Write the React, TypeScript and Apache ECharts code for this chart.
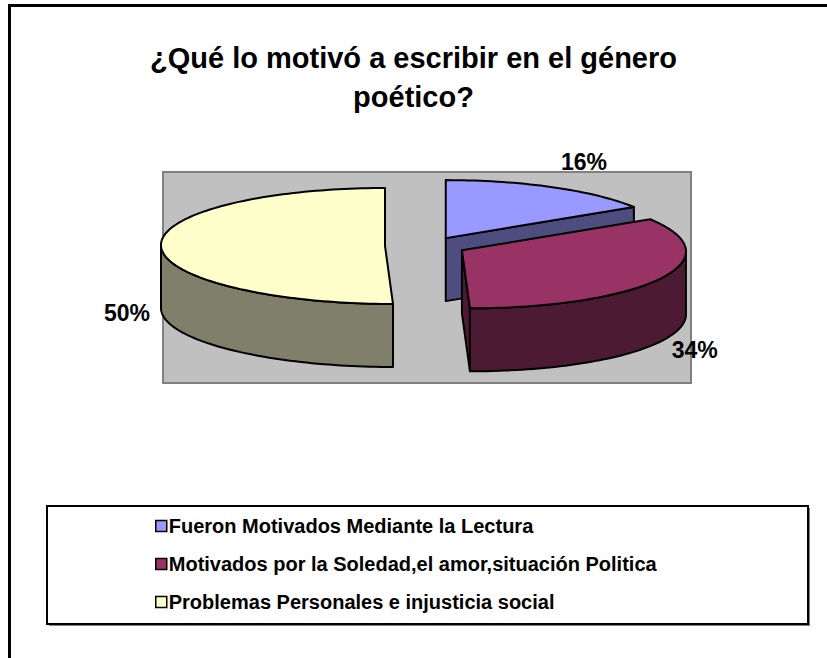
import React, { useEffect, useRef } from "react";
import * as echarts from "echarts";

const titleText = "¿Qué lo motivó a escribir en el género\npoético?";
const categories = [
  "Fueron Motivados Mediante la Lectura",
  "Motivados por la Soledad,el amor,situación Politica",
  "Problemas Personales e injusticia social",
];
const values = [16, 34, 50];
const topColors = ["#9999FF", "#993366", "#FFFFCC"];
const sideColors = ["#4D4D80", "#4D1A33", "#80806A"];

const FONT = "'Liberation Sans', Arial, Helvetica, sans-serif";

// 3D pie geometry (pixels)
const CX = 426;
const CY = 246;
const RX = 224;
const RY = 58;
const H = 63;
const EX = 41;
const EY = 9;

const persp = (t: number) => 4 * t + 4 * t * t;

const total = values.reduce((a, b) => a + b, 0);
const angles: [number, number][] = [];
{
  let acc = 0;
  for (const v of values) {
    const a1 = (acc / total) * Math.PI * 2;
    acc += v;
    const a2 = (acc / total) * Math.PI * 2;
    angles.push([a1, a2]);
  }
}

function makeRenderItem(i: number) {
  return (_params: any, _api: any) => {
    const [a1, a2] = angles[i];
    const am = (a1 + a2) / 2;
    const sc = [CX + EX * Math.sin(am), CY - EY * Math.cos(am)];
    const pt = (a: number, dy = 0) => {
      const t = -Math.cos(a);
      return [sc[0] + RX * Math.sin(a) + persp(t), sc[1] + RY * t + dy];
    };
    const arc = (from: number, to: number, dy: number) => {
      const n = Math.max(2, Math.ceil((to - from) / (Math.PI / 120)));
      const pts: number[][] = [];
      for (let k = 0; k <= n; k++) pts.push(pt(from + ((to - from) * k) / n, dy));
      return pts;
    };
    const stroke = { stroke: "#000", lineWidth: 2, lineJoin: "round" };
    const children: any[] = [];
    const p1 = pt(a1);
    const p2 = pt(a2);
    const sideStyle = { fill: sideColors[i], ...stroke };
    if (p1[0] - sc[0] < -0.5) {
      children.push({
        type: "polygon",
        shape: { points: [sc, p1, [p1[0], p1[1] + H], [sc[0], sc[1] + H]] },
        style: sideStyle,
      });
    }
    if (p2[0] - sc[0] > 0.5) {
      children.push({
        type: "polygon",
        shape: { points: [sc, p2, [p2[0], p2[1] + H], [sc[0], sc[1] + H]] },
        style: sideStyle,
      });
    }
    const s = Math.max(a1, Math.PI / 2);
    const e = Math.min(a2, (3 * Math.PI) / 2);
    if (e > s) {
      children.push({
        type: "polygon",
        shape: { points: arc(s, e, 0).concat(arc(s, e, H).reverse()) },
        style: sideStyle,
      });
    }
    children.push({
      type: "polygon",
      shape: { points: [sc, ...arc(a1, a2, 0)] },
      style: { fill: topColors[i], ...stroke },
    });
    // percentage label
    const v = -Math.cos(am);
    const r = pt(am);
    let dx = r[0] - sc[0];
    let dy = r[1] - sc[1];
    const len = Math.hypot(dx, dy) || 1;
    dx /= len;
    dy /= len;
    const front = v > -0.01;
    const by = front ? r[1] + H : r[1];
    const lx = r[0] + 34 * dx;
    const ly = by + 34 * dy + (front ? 4 : -11);
    children.push({
      type: "text",
      style: {
        text: Math.round((values[i] / total) * 100) + "%",
        x: lx,
        y: ly,
        align: "center",
        verticalAlign: "middle",
        fill: "#000",
        font: "bold 23px " + FONT,
      },
    });
    return { type: "group", children };
  };
}

export default function App() {
  const ref = useRef<HTMLDivElement>(null);
  useEffect(() => {
    if (!ref.current) return;
    const chart = echarts.init(ref.current, undefined, { renderer: "svg" });
    chart.setOption({
      animation: false,
      backgroundColor: "#FFFFFF",
      title: {
        text: titleText,
        left: "center",
        top: 38,
        padding: 0,
        textStyle: {
          fontFamily: FONT,
          fontSize: 29,
          fontWeight: "bold",
          color: "#000",
          lineHeight: 39,
        },
      },
      legend: {
        orient: "vertical",
        left: 155,
        top: 516,
        padding: 0,
        itemWidth: 11,
        itemHeight: 11,
        itemGap: 18,
        selectedMode: false,
        icon: "rect",
        data: categories.map((c, i) => ({
          name: c,
          itemStyle: { color: topColors[i], borderColor: "#000", borderWidth: 1.5 },
        })),
        textStyle: {
          fontFamily: FONT,
          fontSize: 20,
          fontWeight: "bold",
          color: "#000",
          lineHeight: 20,
          padding: [0, 0, 0, -3],
        },
      },
      graphic: [
        {
          type: "rect",
          z: 0,
          silent: true,
          shape: { x: 9.5, y: 5.5, width: 900, height: 700 },
          style: { fill: "none", stroke: "#000", lineWidth: 3 },
        },
        {
          type: "rect",
          z: 0,
          silent: true,
          shape: { x: 163, y: 172, width: 528, height: 211 },
          style: { fill: "#C0C0C0", stroke: "#808080", lineWidth: 2 },
        },
        {
          type: "rect",
          z: 0,
          silent: true,
          shape: { x: 49, y: 508, width: 761, height: 118 },
          style: { fill: "#808080" },
        },
        {
          type: "rect",
          z: 0,
          silent: true,
          shape: { x: 47, y: 506, width: 761, height: 118 },
          style: { fill: "#FFFFFF", stroke: "#000", lineWidth: 2 },
        },
      ],
      series: categories.map((c, i) => ({
        type: "custom",
        name: c,
        coordinateSystem: "none",
        silent: true,
        z: 5,
        itemStyle: { color: topColors[i] },
        data: [[values[i]]],
        renderItem: makeRenderItem(i),
      })),
    });
    return () => chart.dispose();
  }, []);
  return (
    <div
      ref={ref}
      style={{ position: "absolute", left: 0, top: 0, width: 827, height: 658 }}
    />
  );
}
